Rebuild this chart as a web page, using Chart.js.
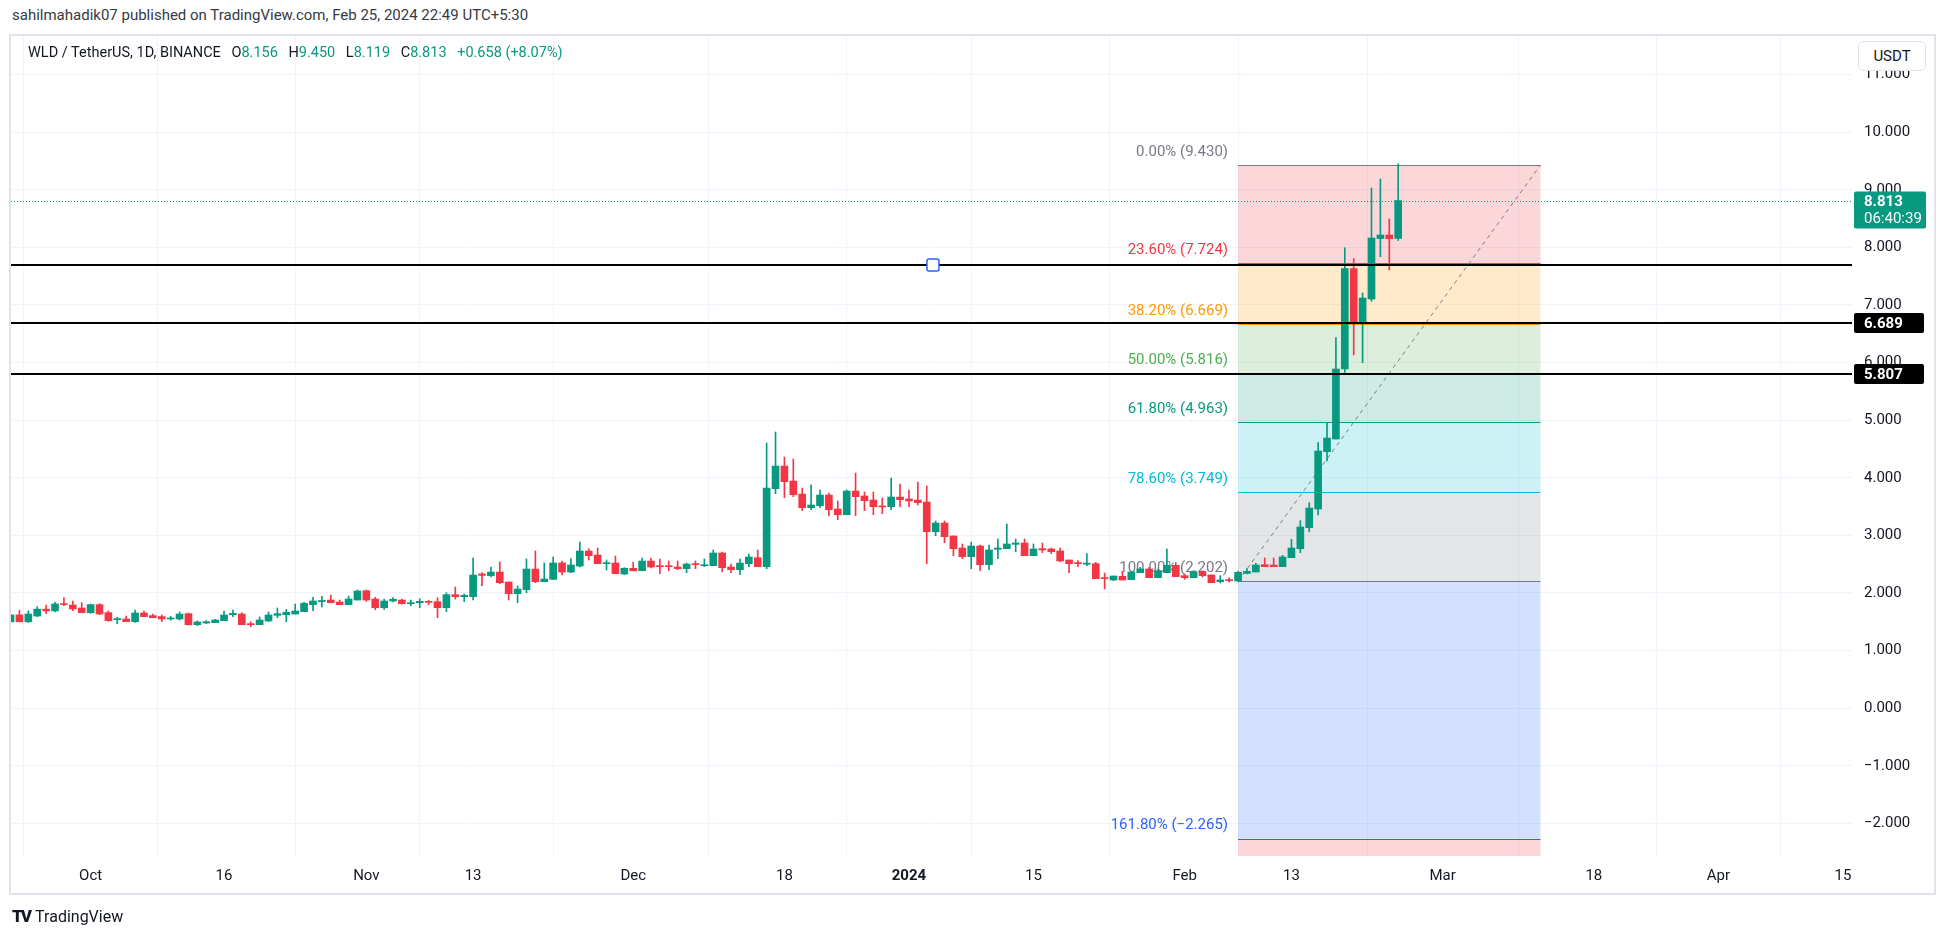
<!DOCTYPE html>
<html>
<head>
<meta charset="utf-8">
<script src="https://cdn.jsdelivr.net/npm/chart.js@4.4.1/dist/chart.umd.min.js"></script>
<style>
  html, body { margin: 0; padding: 0; background: #fff; }
  body { width: 1946px; height: 937px; position: relative; overflow: hidden;
         font-family: Roboto, "Liberation Sans", sans-serif; color: #131722; }
  #title  { position: absolute; left: 12px; top: 6px; font-size: 15px; color: #363a45; white-space: nowrap; }
  #frame  { position: absolute; left: 9px; top: 34px; width: 1923px; height: 857px; border: 2px solid #e0e3eb; }
  #chart  { position: absolute; left: 0; top: 0; }
  #legend { position: absolute; left: 28px; top: 44px; font-size: 14.5px; white-space: nowrap; }
  #legend span { margin-left: 7px; }
  #legend .v { color: #089981; margin-left: 0; font-weight: 400; }
  #usdt   { position: absolute; left: 1858px; top: 41px; width: 66px; height: 28px; border: 1px solid #e0e3eb;
            border-radius: 5px; background: #fff; font-size: 15px; line-height: 28px; text-align: center; }
  #logo   { position: absolute; left: 12px; top: 906px; font-size: 16px; white-space: nowrap; }
  #logo b { font-weight: 900; letter-spacing: -2px; margin-right: 5px; font-size: 17px; }
</style>
</head>
<body>
<div id="title">sahilmahadik07 published on TradingView.com, Feb 25, 2024 22:49 UTC+5:30</div>
<div id="frame"></div>
<canvas id="chart" width="1946" height="937"></canvas>
<div id="legend">WLD / TetherUS, 1D, BINANCE
  <span>O<b class="v">8.156</b></span>
  <span>H<b class="v">9.450</b></span>
  <span>L<b class="v">8.119</b></span>
  <span>C<b class="v">8.813</b></span>
  <span class="v" style="margin-left:7px">+0.658 (+8.07%)</span>
</div>
<div id="usdt">USDT</div>
<div id="logo"><b>TV</b>TradingView</div>

<script>
// ── Data (day 0 = 1 Oct 2023, one candle per day) ─────────
const firstDay = -9;   // 22 Sep 2023
const opens  = [1.50,1.62,1.50,1.60,1.72,1.69,1.815,1.792,1.74,1.659,1.798,1.659,1.537,1.549,1.502,1.653,1.607,1.59,1.549,1.549,
                1.641,1.45,1.479,1.485,1.52,1.624,1.635,1.468,1.45,1.514,1.612,1.624,1.635,1.676,1.798,1.85,1.878,1.843,1.797,1.878,
                2.04,1.895,1.745,1.861,1.878,1.814,1.832,1.855,1.849,1.745,1.971,1.936,1.936,2.33,2.30,2.364,2.191,1.988,2.058,2.416,
                2.196,2.237,2.521,2.364,2.468,2.729,2.659,2.509,2.521,2.33,2.428,2.387,2.555,2.474,2.474,2.451,2.422,2.509,2.474,2.474,
                2.694,2.451,2.405,2.509,2.613,2.457,3.81,4.204,3.944,3.718,3.481,3.516,3.701,3.458,3.359,3.77,3.684,3.614,3.51,3.498,
                3.666,3.632,3.614,3.579,3.064,3.215,2.99,2.781,2.631,2.816,2.492,2.759,2.77,2.845,2.868,2.648,2.77,2.764,2.729,2.573,
                2.527,2.50,2.509,2.266,2.226,2.289,2.232,2.353,2.417,2.266,2.353,2.48,2.301,2.266,2.37,2.313,2.197,2.232,2.208,2.341,
                2.364,2.492,2.486,2.457,2.613,2.77,3.134,3.458,4.453,4.673,5.889,7.631,6.688,7.104,8.152,8.215,8.156];
const highs  = [1.63,1.70,1.69,1.76,1.79,1.84,1.92,1.86,1.832,1.809,1.815,1.688,1.578,1.601,1.705,1.688,1.636,1.618,1.595,1.67,
                1.653,1.514,1.52,1.543,1.688,1.705,1.659,1.503,1.584,1.67,1.74,1.717,1.809,1.838,1.925,1.94,1.965,1.878,1.948,2.052,
                2.052,1.924,1.895,1.919,1.895,1.878,1.901,1.872,1.919,2.005,2.104,1.982,2.607,2.353,2.451,2.538,2.191,2.121,2.59,2.729,
                2.521,2.625,2.555,2.596,2.885,2.77,2.781,2.573,2.642,2.44,2.535,2.607,2.607,2.59,2.555,2.555,2.52,2.555,2.59,2.746,
                2.711,2.503,2.59,2.677,2.746,4.604,4.795,4.361,4.326,3.822,3.875,3.788,3.736,3.597,3.788,4.083,3.753,3.753,3.649,3.996,
                3.892,3.788,3.927,3.857,3.25,3.25,2.99,2.851,2.885,2.833,2.833,2.938,3.198,2.938,2.938,2.851,2.868,2.781,2.781,2.573,
                2.561,2.683,2.532,2.347,2.295,2.376,2.376,2.446,2.446,2.417,2.764,2.527,2.33,2.388,2.388,2.313,2.301,2.266,2.376,2.422,
                2.515,2.608,2.608,2.654,2.931,3.256,3.568,4.61,4.957,6.433,7.995,7.804,7.208,9.031,9.187,8.493,9.45];
const lows   = [1.49,1.50,1.49,1.59,1.64,1.67,1.78,1.693,1.659,1.647,1.624,1.508,1.468,1.502,1.49,1.59,1.572,1.502,1.531,1.531,
                1.444,1.433,1.468,1.485,1.52,1.589,1.45,1.416,1.45,1.502,1.572,1.502,1.635,1.676,1.693,1.76,1.832,1.797,1.797,1.878,
                1.855,1.71,1.716,1.843,1.808,1.78,1.745,1.797,1.571,1.676,1.895,1.849,1.878,2.127,2.277,2.162,1.878,1.832,2.005,2.179,
                2.196,2.237,2.312,2.353,2.451,2.573,2.509,2.399,2.336,2.318,2.385,2.387,2.434,2.335,2.387,2.405,2.353,2.422,2.457,2.474,
                2.37,2.353,2.318,2.457,2.457,2.422,3.724,3.655,3.672,3.429,3.446,3.481,3.342,3.273,3.359,3.342,3.429,3.359,3.377,3.446,
                3.498,3.498,3.527,2.509,2.995,2.873,2.648,2.596,2.422,2.388,2.405,2.596,2.77,2.718,2.648,2.648,2.70,2.683,2.544,2.353,
                2.457,2.475,2.249,2.069,2.214,2.226,2.232,2.353,2.266,2.266,2.353,2.284,2.237,2.266,2.278,2.179,2.174,2.191,2.202,2.33,
                2.364,2.457,2.457,2.457,2.613,2.70,3.065,3.354,4.291,4.673,5.831,6.132,5.999,7.064,7.839,7.608,8.119];
const closes = [1.62,1.50,1.635,1.72,1.69,1.81,1.798,1.722,1.659,1.798,1.635,1.52,1.555,1.502,1.653,1.59,1.572,1.549,1.566,1.635,
                1.45,1.497,1.502,1.531,1.618,1.647,1.45,1.45,1.531,1.618,1.641,1.665,1.688,1.821,1.861,1.87,1.832,1.797,1.895,2.034,
                1.878,1.745,1.861,1.89,1.814,1.832,1.855,1.838,1.745,1.971,1.936,1.959,2.312,2.306,2.364,2.179,1.988,2.069,2.416,2.196,
                2.243,2.521,2.364,2.486,2.729,2.648,2.509,2.526,2.336,2.428,2.385,2.555,2.451,2.457,2.457,2.422,2.503,2.491,2.491,2.694,
                2.439,2.405,2.52,2.625,2.457,3.822,4.204,3.932,3.707,3.481,3.527,3.701,3.446,3.359,3.77,3.672,3.603,3.498,3.493,3.666,
                3.62,3.597,3.568,3.064,3.215,2.978,2.77,2.631,2.816,2.492,2.747,2.781,2.851,2.868,2.648,2.764,2.747,2.718,2.556,2.509,
                2.509,2.515,2.249,2.249,2.295,2.226,2.365,2.417,2.266,2.388,2.48,2.284,2.266,2.37,2.301,2.179,2.226,2.214,2.359,2.376,
                2.486,2.457,2.457,2.625,2.781,3.146,3.475,4.465,4.691,5.889,7.631,6.688,7.122,8.163,8.215,8.152,8.813];

const xTickDays   = [0, 15, 31, 43, 61, 78, 92, 106, 123, 135, 152, 169, 183, 197];
const xTickLabels = ['Oct','16','Nov','13','Dec','18','2024','15','Feb','13','Mar','18','Apr','15'];
const yTicks      = [-2, -1, 0, 1, 2, 3, 4, 5, 6, 7, 8, 9, 10, 11];

const fibRatios   = [0, 0.236, 0.382, 0.5, 0.618, 0.786, 1, 1.618, 2.618];
const fibHigh     = 9.430;
const fibLow      = 2.202;
const fibStartDay = 129;   // 7 Feb
const fibEndDay   = 163;   // 12 Mar

const hLines      = [7.695, 6.689, 5.807];
const hLineTags   = [null, '6.689', '5.807'];
const anchorDay   = 94.7;
const lastPrice   = 8.813;
const countdown   = '06:40:39';

// ── Styles ────────────────────────────────────────────────
const UP = '#089981', DOWN = '#f23645';
const fibColors = ['#787b86','#f23645','#ff9800','#4caf50','#089981','#00bcd4','#787b86','#2962ff','#f23645'];
const fibFills  = [null,'rgba(242,54,69,0.2)','rgba(255,152,0,0.2)','rgba(76,175,80,0.2)','rgba(8,153,129,0.2)',
                   'rgba(0,188,212,0.2)','rgba(120,123,134,0.2)','rgba(41,98,255,0.2)','rgba(242,54,69,0.2)'];
const GRID = '#f0f3fa';
const FONT = 'Roboto, "Liberation Sans", sans-serif';

// ── Build datasets ────────────────────────────────────────
const days      = opens.map((_, i) => firstDay + i);
const candleCol = i => closes[i] >= opens[i] ? UP : DOWN;
const wickData  = days.map((d, i) => ({ x: d, y: [lows[i], highs[i]] }));
const bodyData  = days.map((d, i) => ({ x: d, y: [opens[i], closes[i]] }));
const minus = s => s.replace('-', '\u2212');

// ── Overlay drawings (fib, lines, axis tags) ──────────────
const px = v => Math.round(v) + 0.5;

const tvDraw = {
  id: 'tvDraw',
  beforeDatasetsDraw(chart) {
    const { ctx, chartArea: a, scales: { x, y } } = chart;
    const prices = fibRatios.map(r => fibHigh - r * (fibHigh - fibLow));
    const x0 = x.getPixelForValue(fibStartDay), x1 = x.getPixelForValue(fibEndDay);
    ctx.save();
    ctx.beginPath(); ctx.rect(a.left, a.top, a.right - a.left, a.bottom - a.top); ctx.clip();

    for (let i = 1; i < prices.length; i++) {
      const yA = y.getPixelForValue(prices[i - 1]), yB = y.getPixelForValue(prices[i]);
      ctx.fillStyle = fibFills[i];
      ctx.fillRect(x0, yA, x1 - x0, yB - yA);
    }
    ctx.lineWidth = 1;
    prices.forEach((p, i) => {
      const yp = px(y.getPixelForValue(p));
      ctx.strokeStyle = fibColors[i];
      ctx.beginPath(); ctx.moveTo(x0, yp); ctx.lineTo(x1, yp); ctx.stroke();
    });

    ctx.setLineDash([4, 4]);
    ctx.strokeStyle = '#787b86';
    ctx.beginPath();
    ctx.moveTo(x0, y.getPixelForValue(fibLow));
    ctx.lineTo(x1, y.getPixelForValue(fibHigh));
    ctx.stroke();
    ctx.setLineDash([]);

    ctx.font = '15px ' + FONT;
    ctx.textAlign = 'right';
    ctx.textBaseline = 'middle';
    prices.forEach((p, i) => {
      const txt = (fibRatios[i] * 100).toFixed(2) + '% (' + minus(p.toFixed(3)) + ')';
      ctx.fillStyle = fibColors[i];
      ctx.fillText(txt, x0 - 10, y.getPixelForValue(p) - 13);
    });
    ctx.restore();
  },
  afterDatasetsDraw(chart) {
    const { ctx, chartArea: a, scales: { x, y } } = chart;
    ctx.save();
    // last price dotted line
    const yl = px(y.getPixelForValue(lastPrice));
    ctx.strokeStyle = UP; ctx.lineWidth = 1; ctx.setLineDash([1, 2]);
    ctx.beginPath(); ctx.moveTo(a.left, yl); ctx.lineTo(a.right, yl); ctx.stroke();
    ctx.setLineDash([]);

    // horizontal lines
    ctx.strokeStyle = '#000'; ctx.lineWidth = 2;
    hLines.forEach(v => {
      const yp = Math.round(y.getPixelForValue(v));
      ctx.beginPath(); ctx.moveTo(a.left, yp); ctx.lineTo(a.right, yp); ctx.stroke();
    });
    // anchor handle
    const hx = x.getPixelForValue(anchorDay), hy = Math.round(y.getPixelForValue(hLines[0]));
    ctx.fillStyle = '#fff'; ctx.strokeStyle = '#2962ff'; ctx.lineWidth = 1.5;
    ctx.beginPath(); ctx.roundRect(hx - 6, hy - 6, 12, 12, 2); ctx.fill(); ctx.stroke();

    // axis tags
    const tx = a.right + 2;
    ctx.textAlign = 'left'; ctx.textBaseline = 'middle';
    ctx.fillStyle = UP;
    ctx.beginPath(); ctx.roundRect(tx, yl - 10, 72, 37, 2); ctx.fill();
    ctx.fillStyle = '#fff';
    ctx.font = 'bold 15px ' + FONT; ctx.fillText(lastPrice.toFixed(3), a.right + 12, yl + 1);
    ctx.font = '15px ' + FONT;      ctx.fillText(countdown, a.right + 12, yl + 18);

    hLines.forEach((v, i) => {
      if (!hLineTags[i]) return;
      const yp = Math.round(y.getPixelForValue(v));
      ctx.fillStyle = '#000';
      ctx.beginPath(); ctx.roundRect(tx, yp - 10, 70, 20, 2); ctx.fill();
      ctx.fillStyle = '#fff'; ctx.font = 'bold 15px ' + FONT;
      ctx.fillText(hLineTags[i], a.right + 12, yp + 1);
    });
    ctx.restore();
  }
};

// ── Chart ─────────────────────────────────────────────────
Chart.defaults.font.family = FONT;
Chart.defaults.font.size = 15;
Chart.defaults.color = '#131722';

new Chart(document.getElementById('chart'), {
  type: 'bar',
  data: {
    datasets: [
      { data: wickData, backgroundColor: wickData.map((_, i) => candleCol(i)), barThickness: 1, grouped: false, minBarLength: 1 },
      { data: bodyData, backgroundColor: bodyData.map((_, i) => candleCol(i)), barThickness: 7, grouped: false, minBarLength: 1 }
    ]
  },
  options: {
    responsive: false,
    animation: false,
    devicePixelRatio: 1,
    layout: { padding: { left: 11, top: 36, right: 12, bottom: 44 } },
    plugins: { legend: { display: false }, tooltip: { enabled: false } },
    scales: {
      x: {
        type: 'linear', min: -8.95, max: 198.02, offset: false,
        afterBuildTicks: s => { s.ticks = xTickDays.map(v => ({ value: v })); },
        afterFit: s => { s.height = 37; },
        grid: { color: GRID, drawTicks: false },
        border: { display: false },
        ticks: {
          autoSkip: false, maxRotation: 0, padding: 11,
          callback: (v, i) => xTickLabels[i],
          font: c => ({ size: 15, weight: xTickLabels[c.index] === '2024' ? 'bold' : 'normal' })
        }
      },
      y: {
        position: 'right', min: -2.566, max: 11.67,
        afterBuildTicks: s => { s.ticks = yTicks.map(v => ({ value: v })); },
        afterFit: s => { s.width = 82; },
        grid: { color: GRID, drawTicks: false },
        border: { display: false },
        ticks: { padding: 12, crossAlign: 'near', callback: v => minus(v.toFixed(3)) }
      }
    }
  },
  plugins: [tvDraw]
});
</script>
</body>
</html>
